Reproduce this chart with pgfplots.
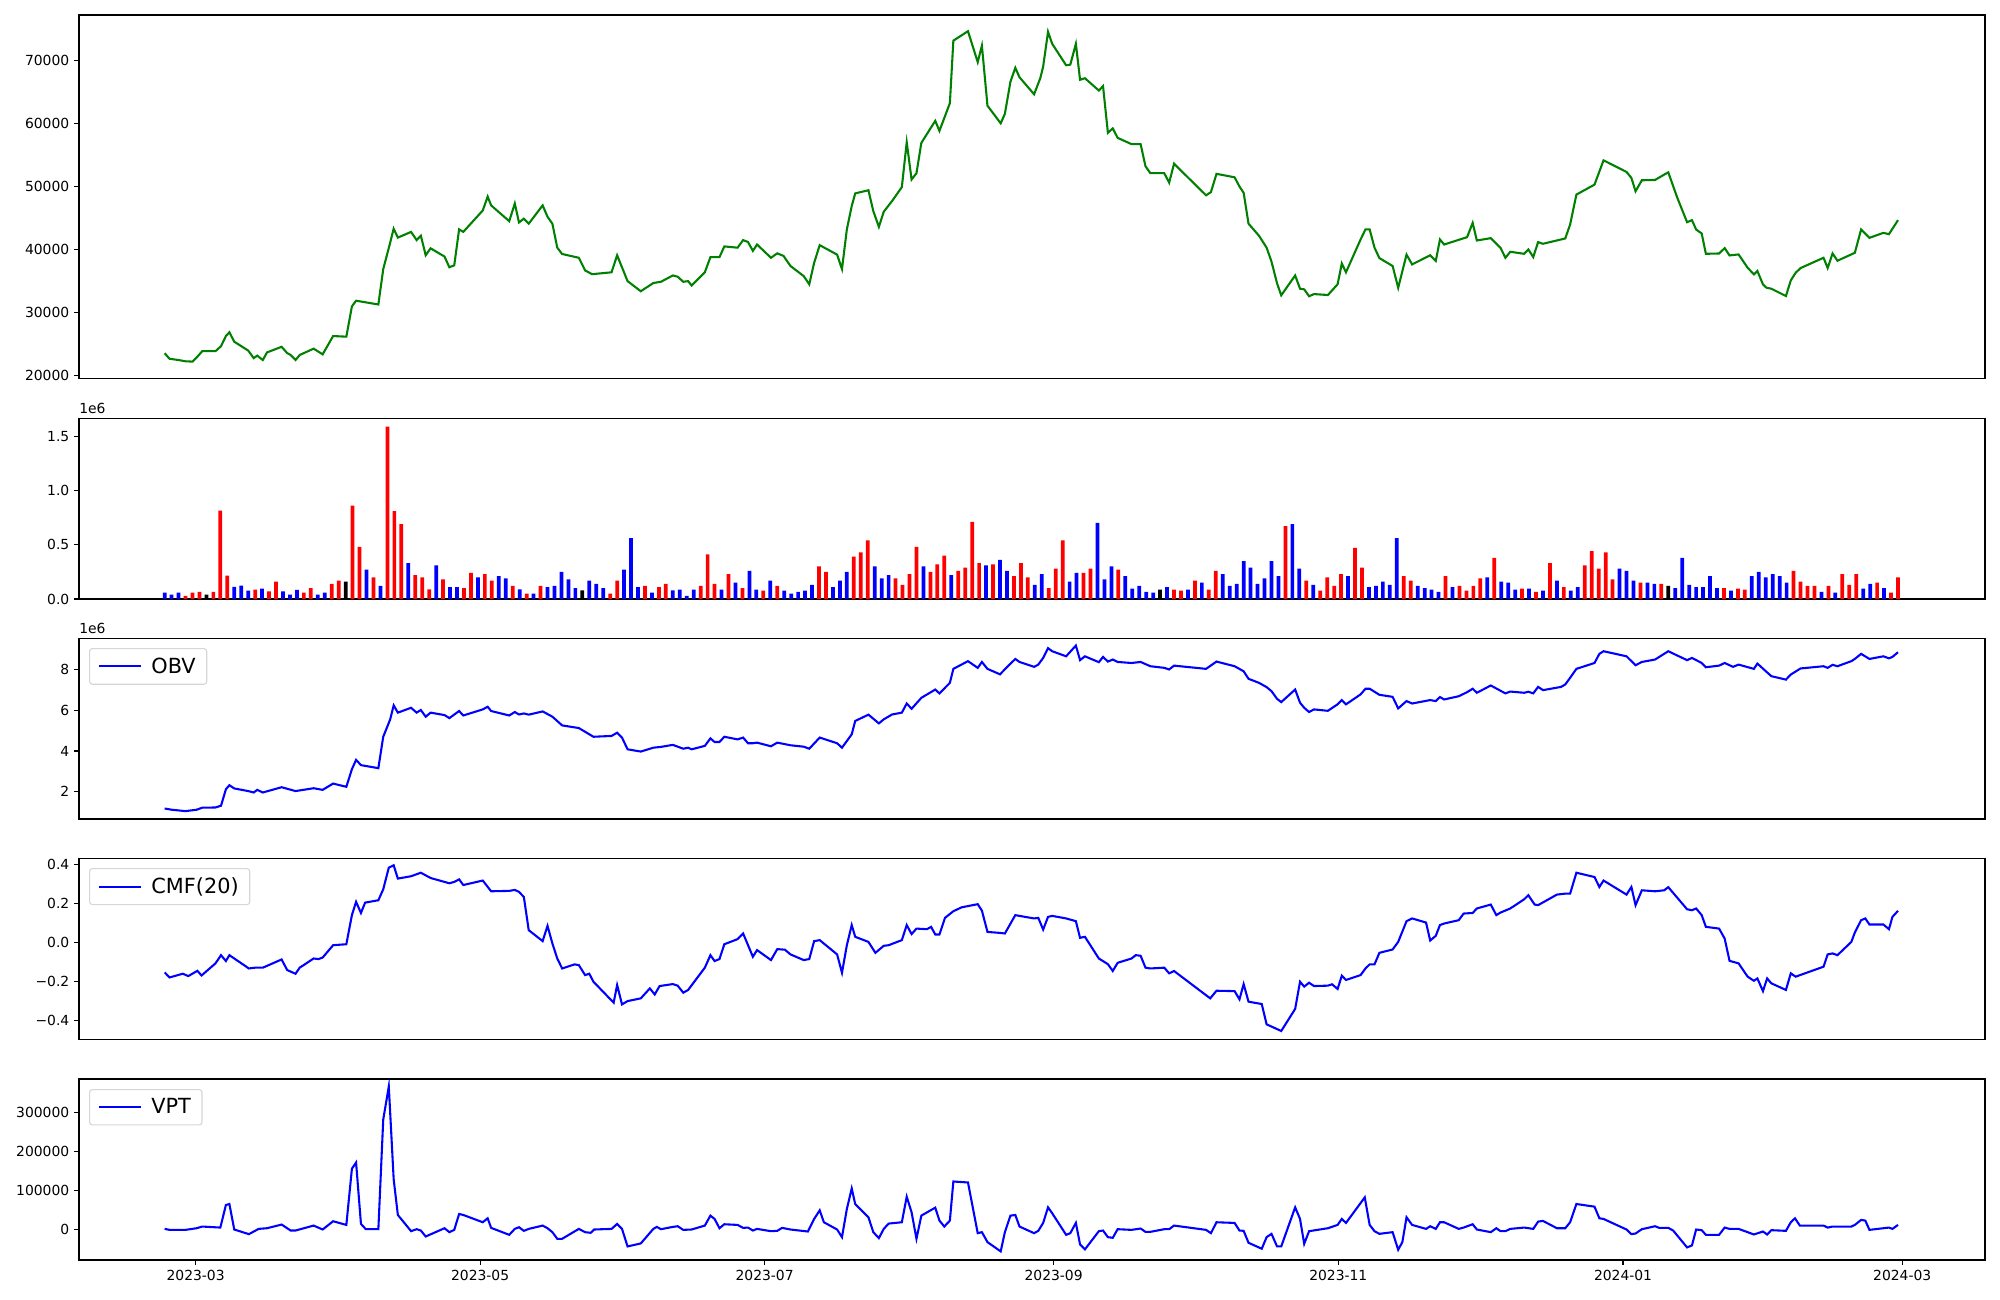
\documentclass[border=0pt]{standalone}
\usepackage{fontspec}
\setmainfont{DejaVu Sans}
\usepackage{pgfplots}
\pgfplotsset{compat=1.18}
\definecolor{mgreen}{HTML}{008000}
\definecolor{mblue}{HTML}{0000FF}
\definecolor{mred}{HTML}{FF0000}
\definecolor{legedge}{HTML}{D6D6D6}
\pgfplotsset{
  mpl/.style={
    scale only axis, width=1372.3pt, anchor=north west,
    xmin=-12.3, xmax=261.5,
    clip mode=individual,
    scaled ticks=false,
    axis line style={line width=0.8pt},
    every tick/.style={line width=0.8pt, black},
    tick align=outside, major tick length=3.5pt,
    ytick pos=left, xtick pos=bottom,
    tick label style={font=\fontsize{10}{12}\selectfont},
    /pgf/number format/assume math mode=true,
    legend cell align=left,
    legend image code/.code={\draw[#1, line width=1.5pt] (0pt,0pt) -- (30pt,0pt);},
    legend style={at={(0,1)}, anchor=north west, xshift=7.2pt, yshift=-7.2pt,
      draw=legedge, line width=0.8pt, rounded corners=2pt, fill=white,
      font=\fontsize{15}{18}\selectfont, inner xsep=6pt, inner ysep=4.5pt,
      /tikz/every odd column/.append style={column sep=5pt}},
  },
}
\begin{document}
\begin{tikzpicture}
\path[use as bounding box] (0pt,0pt) rectangle (1440pt,-936pt);
% ---------------- Price ----------------
\begin{axis}[mpl, at={(56.9pt,-10.8pt)}, height=261.7pt,
  ymin=19579, ymax=77166, xtick=\empty,
  ytick={20000,30000,40000,50000,60000,70000},
  yticklabels={20000,30000,40000,50000,60000,70000}]
\addplot[mgreen, line width=1.5pt] coordinates {
(0,23580) (0.7,22700) (2,22500) (3,22300) (4,22250) (4.6,22900) (5.4,23900) (7.3,23900) (8.1,24700) (8.8,26300) (9.3,26900) (10,25400) (12,24000) (12.8,22800) (13.3,23200) (14.1,22500) (14.7,23700) (16.8,24600) (17.6,23600) (18.1,23300) (18.8,22500) (19.4,23300) (21.4,24300) (22.7,23400) (24.2,26300) (26.1,26200) (26.9,31000) (27.5,31900) (30.7,31300) (31.4,36900) (32.4,41100) (32.9,43300) (33.5,41900) (35.4,42800) (36.2,41500) (36.8,42200) (37.5,39100) (38.2,40200) (40.2,38900) (40.9,37200) (41.6,37500) (42.3,43200) (42.9,42800) (45.7,46200) (46.4,48400) (46.9,47000) (49.5,44500) (50.3,47300) (50.9,44300) (51.6,44900) (52.3,44100) (54.3,47000) (55,45200) (55.7,44100) (56.4,40300) (57.1,39300) (59.5,38700) (60.4,36700) (61.4,36100) (64.2,36400) (65,39100) (66.5,35000) (68.4,33400) (70.2,34700) (71.3,34900) (73,35900) (73.7,35700) (74.5,34900) (75.2,35000) (75.7,34300) (77.6,36400) (78.4,38800) (79.7,38800) (80.4,40500) (82.3,40300) (83.1,41500) (83.8,41200) (84.5,39800) (85.1,40800) (87.1,38700) (88,39400) (88.9,39000) (89.9,37400) (91.8,35800) (92.6,34500) (93.3,37900) (94.1,40700) (96.6,39200) (97.3,36900) (98,43200) (98.7,46900) (99.2,48900) (101.1,49400) (101.8,46100) (102.6,43600) (103.3,46000) (104.5,47700) (105.9,49900) (106.6,57000) (107.3,51100) (108,52100) (108.7,56900) (110.7,60400) (111.3,58800) (112.8,63200) (113.3,73100) (115.4,74600) (116.8,69700) (117.4,72300) (118.2,62800) (120.1,60000) (120.7,61500) (121.5,66600) (122.2,68800) (122.8,67300) (124.9,64600) (125.8,67200) (126.2,69000) (126.9,74500) (127.5,72600) (129.5,69200) (130.1,69300) (130.9,72600) (131.5,66900) (132.2,67150) (134.2,65200) (134.8,65900) (135.5,58500) (136.2,59200) (136.9,57700) (138.9,56700) (140.2,56700) (140.9,53200) (141.6,52100) (143.6,52100) (144.3,50600) (145,53600) (149.6,48600) (150.3,49100) (151.1,52000) (153.7,51450) (154.4,50000) (155,49000) (155.7,44100) (157.2,42200) (158.3,40300) (159,38100) (159.8,34650) (160.4,32750) (162.4,35900) (163.1,33800) (163.7,33700) (164.4,32600) (165.1,32950) (167.1,32800) (168.5,34500) (169.1,37800) (169.7,36400) (171.8,41600) (172.5,43200) (173.1,43200) (173.8,40300) (174.5,38650) (176.4,37400) (177.2,33950) (178.4,39200) (179.2,37650) (181.8,39100) (182.6,38200) (183.2,41600) (183.8,40800) (187.1,41970) (187.9,44230) (188.5,41440) (190.5,41810) (191.9,40280) (192.6,38700) (193.3,39650) (195.3,39330) (195.9,40020) (196.6,38810) (197.3,41180) (198,40920) (201.2,41760) (201.9,43970) (202.8,48710) (205.4,50290) (206.7,54140) (210,52300) (210.7,51350) (211.3,49240) (212.2,50980) (214.1,51030) (215.4,51870) (216,52240) (217.3,48190) (218.7,44340) (219.4,44660) (220,43180) (220.8,42550) (221.4,39330) (223.3,39380) (224.1,40230) (224.8,39070) (226.1,39230) (227.4,37120) (228.3,36070) (228.8,36600) (229.6,34490) (230.1,33960) (230.8,33800) (232.9,32640) (233.6,35120) (234.3,36330) (235,37070) (238.3,38700) (238.9,37070) (239.6,39380) (240.3,38230) (242.8,39490) (243.7,43180) (244.9,41860) (246.9,42650) (247.7,42440) (249,44660)
};
\end{axis}
% ---------------- Volume ----------------
\begin{axis}[mpl, at={(56.9pt,-301.0pt)}, height=130.3pt,
  ymin=0, ymax=1.666, xtick=\empty,
  ytick={0,0.5,1,1.5}, yticklabels={0.0,0.5,1.0,1.5}]
\addplot[ybar, bar width=0.536, bar shift=0pt, fill=mred, draw=none] coordinates {
(3,0.030) (4,0.058) (5,0.067) (7,0.067) (8,0.813) (9,0.215) (13,0.086) (15,0.070) (16,0.160) (20,0.060) (21,0.100) (24,0.140) (25,0.170) (27,0.860) (28,0.480) (30,0.200) (32,1.587) (33,0.810) (34,0.690) (36,0.220) (37,0.200) (38,0.090) (40,0.180) (43,0.100) (44,0.240) (46,0.230) (47,0.170) (50,0.120) (52,0.050) (54,0.120) (64,0.050) (65,0.170) (69,0.120) (71,0.110) (72,0.140) (77,0.120) (78,0.410) (79,0.140) (81,0.230) (83,0.100) (86,0.077) (88,0.120) (94,0.300) (95,0.250) (99,0.390) (100,0.430) (101,0.540) (105,0.190) (106,0.130) (107,0.230) (108,0.480) (110,0.250) (111,0.320) (112,0.400) (114,0.260) (115,0.290) (116,0.710) (117,0.330) (119,0.320) (122,0.210) (123,0.330) (124,0.200) (127,0.100) (128,0.280) (129,0.540) (132,0.240) (133,0.280) (137,0.270) (145,0.086) (146,0.077) (148,0.170) (150,0.086) (151,0.260) (161,0.670) (164,0.170) (166,0.077) (167,0.200) (168,0.120) (169,0.230) (171,0.470) (172,0.290) (178,0.210) (179,0.170) (184,0.210) (186,0.120) (187,0.077) (188,0.120) (189,0.190) (191,0.380) (195,0.095) (197,0.067) (199,0.330) (201,0.110) (204,0.310) (205,0.440) (206,0.280) (207,0.430) (208,0.180) (212,0.150) (215,0.140) (224,0.100) (226,0.095) (227,0.086) (234,0.260) (235,0.160) (236,0.120) (237,0.120) (239,0.120) (241,0.230) (242,0.130) (243,0.230) (246,0.150) (248,0.058) (249,0.200)
};
\addplot[ybar, bar width=0.536, bar shift=0pt, fill=mblue, draw=none] coordinates {
(0,0.058) (1,0.040) (2,0.058) (10,0.113) (11,0.123) (12,0.077) (14,0.095) (17,0.070) (18,0.040) (19,0.085) (22,0.040) (23,0.060) (29,0.270) (31,0.120) (35,0.330) (39,0.310) (41,0.110) (42,0.110) (45,0.200) (48,0.210) (49,0.190) (51,0.090) (53,0.050) (55,0.110) (56,0.120) (57,0.250) (58,0.180) (59,0.100) (61,0.170) (62,0.140) (63,0.100) (66,0.270) (67,0.560) (68,0.110) (70,0.060) (73,0.080) (74,0.086) (75,0.030) (76,0.086) (80,0.086) (82,0.150) (84,0.260) (85,0.086) (87,0.170) (89,0.077) (90,0.050) (91,0.067) (92,0.077) (93,0.130) (96,0.110) (97,0.170) (98,0.250) (102,0.300) (103,0.190) (104,0.220) (109,0.300) (113,0.220) (118,0.310) (120,0.360) (121,0.260) (125,0.130) (126,0.230) (130,0.160) (131,0.240) (134,0.700) (135,0.180) (136,0.300) (138,0.210) (139,0.095) (140,0.120) (141,0.067) (142,0.058) (144,0.110) (147,0.086) (149,0.150) (152,0.230) (153,0.120) (154,0.140) (155,0.350) (156,0.290) (157,0.140) (158,0.190) (159,0.350) (160,0.210) (162,0.690) (163,0.280) (165,0.130) (170,0.210) (173,0.110) (174,0.120) (175,0.160) (176,0.130) (177,0.560) (180,0.120) (181,0.100) (182,0.086) (183,0.067) (185,0.110) (190,0.200) (192,0.160) (193,0.150) (194,0.086) (196,0.095) (198,0.077) (200,0.170) (202,0.077) (203,0.110) (209,0.280) (210,0.260) (211,0.170) (213,0.150) (214,0.140) (217,0.100) (218,0.380) (219,0.130) (220,0.110) (221,0.110) (222,0.210) (223,0.100) (225,0.077) (228,0.210) (229,0.250) (230,0.200) (231,0.230) (232,0.210) (233,0.150) (238,0.067) (240,0.058) (244,0.095) (245,0.140) (247,0.100)
};
\addplot[ybar, bar width=0.536, bar shift=0pt, fill=black, draw=none] coordinates {
(6,0.040) (26,0.160) (60,0.080) (143,0.086) (216,0.120)
};
\node[anchor=base west, inner sep=0pt, font=\fontsize{10}{12}\selectfont] at (rel axis cs:0,1) [yshift=3.6pt] {1e6};
\end{axis}
% ---------------- OBV ----------------
\begin{axis}[mpl, at={(56.9pt,-459.4pt)}, height=130.3pt,
  ymin=0.64, ymax=9.57, xtick=\empty,
  ytick={2,4,6,8}, yticklabels={2,4,6,8}]
\addplot[mblue, line width=1.5pt] coordinates {
(0,1.16) (1,1.10) (3,1.03) (4.6,1.10) (5.4,1.20) (7.3,1.21) (8.1,1.30) (8.8,2.11) (9.3,2.31) (10,2.15) (12,2.02) (12.8,1.95) (13.3,2.08) (14.1,1.95) (16.8,2.21) (18.8,2.02) (21.4,2.16) (22.7,2.08) (24.2,2.39) (26.1,2.23) (26.9,3.10) (27.5,3.56) (28.2,3.30) (30.7,3.15) (31.4,4.70) (32.4,5.56) (32.9,6.25) (33.5,5.89) (35.4,6.13) (36.2,5.89) (36.8,6.02) (37.5,5.69) (38.2,5.89) (40.2,5.77) (40.9,5.62) (42.3,5.97) (42.9,5.75) (45.7,6.05) (46.4,6.18) (46.9,5.97) (49.5,5.75) (50.3,5.92) (50.9,5.80) (51.6,5.85) (52.3,5.79) (54.3,5.95) (55.7,5.69) (57.1,5.26) (59.5,5.13) (61.6,4.70) (64.2,4.74) (65,4.90) (65.7,4.66) (66.5,4.08) (68.4,3.97) (70.2,4.16) (71.3,4.20) (73,4.30) (74.5,4.11) (75.2,4.16) (75.7,4.08) (77.6,4.25) (78.4,4.62) (79,4.44) (79.7,4.44) (80.4,4.70) (82.3,4.57) (83.1,4.66) (83.8,4.38) (84.5,4.38) (85.1,4.41) (87.1,4.23) (88,4.41) (89.9,4.28) (91.8,4.21) (92.6,4.11) (94.1,4.66) (96.6,4.38) (97.3,4.16) (98.7,4.82) (99.2,5.48) (101.1,5.79) (102.6,5.36) (103.3,5.56) (104.5,5.80) (105.9,5.89) (106.6,6.34) (107.3,6.08) (108.7,6.62) (110.7,7.03) (111.3,6.84) (112.8,7.36) (113.3,8.05) (115.4,8.43) (116.8,8.10) (117.4,8.39) (118.2,8.05) (120,7.78) (120.9,8.10) (122.2,8.54) (122.8,8.39) (124.9,8.15) (125.5,8.26) (126.2,8.59) (126.9,9.07) (127.5,8.92) (129.5,8.67) (130.9,9.20) (131.5,8.48) (132.2,8.67) (134.2,8.38) (134.8,8.64) (135.5,8.41) (136.2,8.51) (136.9,8.39) (138.9,8.34) (140.2,8.39) (141.6,8.18) (143.6,8.10) (144.3,8.02) (145,8.21) (149.6,8.05) (151.1,8.41) (153.7,8.18) (155,7.93) (155.7,7.56) (157.2,7.36) (158.3,7.15) (159,6.95) (159.8,6.57) (160.4,6.41) (162.4,7.03) (163.1,6.38) (163.7,6.13) (164.4,5.92) (165.1,6.05) (167.1,5.98) (168.5,6.30) (169.1,6.51) (169.7,6.30) (171.8,6.79) (172.5,7.07) (173.1,7.07) (174.5,6.77) (176.4,6.67) (177.2,6.10) (178.4,6.46) (179.2,6.34) (181.8,6.51) (182.6,6.46) (183.2,6.66) (183.8,6.54) (185.9,6.70) (187.1,6.90) (187.9,7.07) (188.5,6.87) (190.5,7.23) (192.6,6.84) (193.3,6.93) (195.3,6.87) (195.9,6.92) (196.6,6.84) (197.3,7.16) (198,7.00) (200.6,7.16) (201.2,7.28) (201.9,7.61) (202.8,8.05) (205.4,8.34) (206.1,8.79) (206.7,8.92) (210,8.67) (211.3,8.23) (212.2,8.39) (214.1,8.51) (216,8.92) (218.7,8.48) (219.4,8.59) (220.8,8.34) (221.4,8.13) (223.3,8.21) (224.1,8.34) (225.3,8.15) (226.1,8.26) (228.3,8.05) (228.8,8.31) (230.8,7.69) (232.9,7.52) (233.6,7.77) (235,8.07) (238.3,8.18) (238.9,8.10) (239.6,8.25) (240.3,8.18) (242.3,8.43) (242.8,8.54) (243.7,8.79) (244.9,8.54) (246.9,8.67) (247.7,8.57) (248.2,8.64) (249,8.87)
};
\addlegendentry{OBV}
\node[anchor=base west, inner sep=0pt, font=\fontsize{10}{12}\selectfont] at (rel axis cs:0,1) [yshift=3.6pt] {1e6};
\end{axis}
% ---------------- CMF ----------------
\begin{axis}[mpl, at={(56.9pt,-617.8pt)}, height=130.7pt,
  ymin=-0.497, ymax=0.432, xtick=\empty,
  ytick={-0.4,-0.2,0,0.2,0.4}, yticklabels={−0.4,−0.2,0.0,0.2,0.4}]
\addplot[mblue, line width=1.5pt] coordinates {
(0,-0.153) (0.7,-0.179) (2.6,-0.160) (3.4,-0.172) (4.7,-0.145) (5.3,-0.169) (7.3,-0.107) (8.1,-0.065) (8.8,-0.095) (9.3,-0.065) (12.1,-0.133) (13,-0.129) (14.1,-0.129) (16.8,-0.087) (17.6,-0.141) (18.8,-0.160) (19.4,-0.129) (21.4,-0.082) (22.1,-0.085) (22.7,-0.077) (24.2,-0.014) (26.1,-0.009) (26.9,0.140) (27.5,0.208) (28.2,0.151) (28.8,0.204) (30.7,0.216) (31.4,0.272) (32.2,0.383) (32.9,0.395) (33.5,0.327) (35.4,0.339) (36.8,0.357) (38.2,0.330) (40.9,0.303) (41.6,0.310) (42.3,0.323) (42.9,0.294) (45.7,0.317) (46.9,0.262) (49.5,0.264) (50.3,0.269) (50.9,0.259) (51.6,0.233) (52.3,0.063) (54.3,0.007) (55,0.085) (55.7,-0.005) (56.4,-0.082) (57.1,-0.133) (58.9,-0.112) (59.5,-0.116) (60.4,-0.167) (61,-0.160) (61.6,-0.201) (64.5,-0.308) (65,-0.218) (65.7,-0.317) (66.5,-0.300) (68.4,-0.286) (69.7,-0.235) (70.4,-0.266) (71.1,-0.223) (73,-0.213) (73.7,-0.221) (74.5,-0.257) (75.2,-0.243) (77.6,-0.129) (78.4,-0.065) (79,-0.095) (79.7,-0.085) (80.4,-0.009) (82.3,0.017) (83.1,0.046) (84.5,-0.073) (85.1,-0.039) (87.1,-0.090) (88,-0.034) (89.1,-0.037) (89.9,-0.061) (91.8,-0.090) (92.6,-0.085) (93.3,0.007) (94.1,0.012) (96.6,-0.061) (97.3,-0.155) (98,-0.014) (98.7,0.089) (99.2,0.029) (101.1,0.003) (102.1,-0.053) (103.3,-0.017) (104,-0.014) (105.9,0.012) (106.6,0.089) (107.3,0.043) (108,0.071) (109.5,0.068) (110.1,0.080) (110.7,0.041) (111.3,0.041) (112.1,0.126) (113.3,0.160) (114.5,0.180) (116.8,0.196) (117.4,0.163) (118.2,0.054) (120,0.049) (120.7,0.046) (122.2,0.140) (122.8,0.136) (124.9,0.123) (125.5,0.126) (126.2,0.066) (126.9,0.131) (127.5,0.136) (129.5,0.123) (130.9,0.109) (131.5,0.024) (132.2,0.029) (134.2,-0.082) (135.5,-0.111) (136.2,-0.146) (136.9,-0.104) (138.9,-0.082) (139.5,-0.065) (140.2,-0.068) (140.9,-0.129) (141.6,-0.133) (143.6,-0.129) (144.3,-0.158) (145,-0.146) (150.2,-0.286) (151.1,-0.247) (153.7,-0.249) (154.4,-0.291) (155,-0.213) (155.7,-0.303) (157.6,-0.315) (158.3,-0.419) (160.4,-0.453) (162.4,-0.340) (163.1,-0.201) (163.7,-0.226) (164.4,-0.206) (165.1,-0.223) (167.1,-0.221) (167.7,-0.214) (168.5,-0.238) (169.1,-0.170) (169.7,-0.192) (171.8,-0.167) (172.5,-0.133) (173.1,-0.112) (173.8,-0.112) (174.5,-0.053) (176.4,-0.036) (177.2,0.003) (178.4,0.109) (179.2,0.123) (181.2,0.102) (181.8,0.010) (182.6,0.034) (183.2,0.089) (183.8,0.097) (185.9,0.114) (186.6,0.148) (187.9,0.151) (188.5,0.174) (190.5,0.194) (191.3,0.140) (191.9,0.153) (193.3,0.174) (195.3,0.221) (195.9,0.242) (196.8,0.194) (197.3,0.191) (200,0.245) (201.2,0.250) (201.9,0.250) (202.8,0.357) (205.4,0.335) (206.1,0.284) (206.7,0.317) (210,0.245) (210.7,0.284) (211.3,0.191) (212.2,0.267) (214.1,0.262) (215.4,0.267) (216,0.283) (218.7,0.170) (219.4,0.165) (220,0.174) (220.8,0.140) (221.4,0.080) (223.3,0.071) (224.1,0.020) (224.8,-0.094) (226.1,-0.107) (227.4,-0.175) (228.3,-0.196) (228.8,-0.184) (229.6,-0.249) (230.2,-0.184) (230.8,-0.209) (232.9,-0.243) (233.6,-0.158) (234.3,-0.175) (238.3,-0.124) (238.9,-0.061) (239.6,-0.056) (240.3,-0.065) (242.3,0.003) (242.8,0.051) (243.7,0.114) (244.3,0.123) (244.9,0.092) (246.9,0.092) (247.7,0.068) (248.2,0.131) (249,0.162)
};
\addlegendentry{CMF(20)}
\end{axis}
% ---------------- VPT ----------------
\begin{axis}[mpl, at={(56.9pt,-776.9pt)}, height=130.3pt,
  ymin=-79000, ymax=385000,
  ytick={0,100000,200000,300000}, yticklabels={0,100000,200000,300000},
  xtick={4.45,45.32,86.19,127.7,168.6,209.5,249.6},
  xticklabels={2023-03,2023-05,2023-07,2023-09,2023-11,2024-01,2024-03}]
\addplot[mblue, line width=1.5pt] coordinates {
(0,800) (0.7,-1700) (3,-1700) (4.6,2500) (5.4,6800) (8,4200) (8.8,62000) (9.3,64600) (10,-800) (12.1,-12700) (13.5,800) (14.7,2500) (16.8,11900) (18.1,-3400) (18.8,-3400) (21.4,9300) (22.7,-800) (24.2,20400) (26.1,11000) (26.9,155000) (27.5,171000) (28.2,13600) (28.9,0) (30.7,0) (31.4,281000) (32.2,366000) (32.9,128000) (33.5,36500) (35.4,-5000) (36.2,0) (36.8,-3400) (37.5,-18700) (40.2,2500) (40.9,-7600) (41.6,-1700) (42.3,39000) (42.9,36500) (45.7,17800) (46.4,28000) (46.9,3400) (49.5,-14400) (50.3,800) (50.9,5100) (51.6,-4200) (52.3,800) (54.3,9300) (55,2500) (55.7,-7600) (56.4,-24600) (57.1,-24600) (59.5,800) (60.4,-7600) (61.2,-9300) (61.7,-800) (64.2,800) (65,13600) (65.7,800) (66.5,-44200) (68.4,-36500) (70.2,800) (70.7,5900) (71.3,0) (73,5900) (73.7,7600) (74.5,-1700) (75.7,-800) (77.6,9300) (78.4,34800) (79,26300) (79.7,2500) (80.4,12700) (82.3,11000) (83.1,3400) (83.8,4200) (84.5,-3400) (85.1,800) (87.1,-5100) (88,-4200) (88.7,3400) (89.9,-800) (92.4,-5900) (93.3,26300) (94.1,48400) (94.7,17800) (96.6,-800) (97.3,-20400) (98,51800) (98.7,104500) (99.2,64600) (101.1,30600) (101.8,-7600) (102.6,-22900) (103.3,800) (104,14400) (105.9,17800) (106.6,83300) (107.3,43300) (108,-24600) (108.7,34800) (110.7,55200) (111.3,22100) (112,6800) (112.8,22100) (113.3,122300) (115.4,119800) (116.8,-10200) (117.4,-7600) (118.2,-33100) (120.1,-56900) (120.7,-7600) (121.5,34800) (122.2,36500) (122.8,6800) (124.9,-10200) (125.5,-4200) (126.2,16100) (126.9,56100) (127.5,40800) (129.5,-14400) (130.1,-10200) (130.9,16100) (131.5,-39100) (132.2,-51800) (134.2,-5100) (134.8,-3400) (135.5,-20400) (136.2,-22100) (136.9,0) (138.9,-1700) (140.2,1700) (140.9,-6800) (141.6,-6800) (143.6,0) (144.3,0) (145,9300) (149.6,-1700) (150.3,-10200) (151.1,17800) (153.7,16100) (154.4,-3400) (155,-4200) (155.7,-34800) (157.6,-50100) (158.3,-20400) (159,-11900) (159.8,-44200) (160.4,-44200) (162.4,56100) (163.1,26300) (163.7,-37400) (164.4,-5100) (167.1,2500) (168.5,11000) (169.1,26300) (169.7,16100) (172.4,81600) (173.1,11000) (173.8,-5100) (174.5,-11900) (176.4,-7600) (177.2,-52700) (177.8,-33100) (178.4,30600) (179.2,11000) (181.2,800) (181.8,7600) (182.6,800) (183.2,17800) (183.8,17800) (185.9,800) (186.6,4200) (187.9,12700) (188.5,-800) (190.5,-7600) (191.3,2500) (191.9,-5100) (192.6,-5100) (193.3,800) (195.3,4200) (196.6,800) (197.3,19500) (198,21200) (200,2500) (201.2,2500) (201.9,17800) (202.8,64600) (205.4,57800) (206.1,28000) (206.7,26300) (210,-800) (210.7,-12700) (211.3,-11000) (212.2,0) (214.1,7600) (214.7,3400) (216,3400) (216.7,-3400) (218.7,-46700) (219.4,-41600) (220,-800) (220.8,-2500) (221.4,-14400) (223.3,-14400) (224.1,4200) (224.8,800) (226.1,800) (227.4,-7600) (228.3,-13600) (229.6,-5900) (230.2,-13600) (230.8,-2500) (232.9,-4200) (233.6,17800) (234.2,28000) (234.9,9300) (238.3,9300) (238.9,4200) (239.6,6800) (242.3,6800) (242.8,11000) (243.7,23800) (244.3,22100) (244.9,-1700) (246.9,2500) (247.7,4200) (248.2,800) (249,11000)
};
\addlegendentry{VPT}
\end{axis}
\end{tikzpicture}
\end{document}
